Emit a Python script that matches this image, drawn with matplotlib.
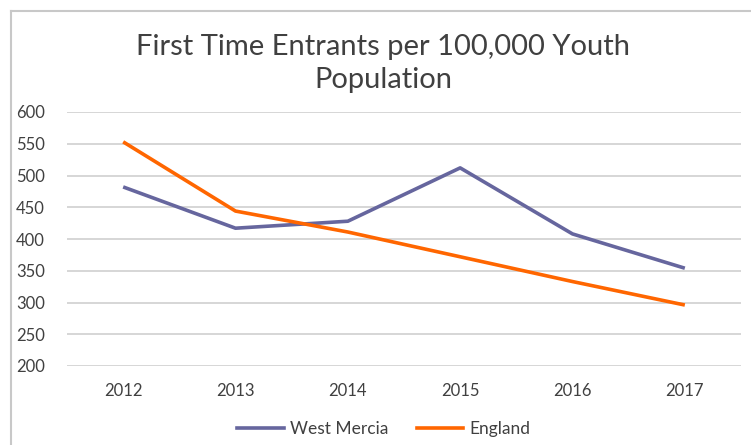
import matplotlib
matplotlib.use("Agg")
import matplotlib.pyplot as plt
from matplotlib.lines import Line2D

years = ["2012", "2013", "2014", "2015", "2016", "2017"]
west_mercia = [482, 417, 428, 512, 408, 354]
england = [553, 444, 411, 372, 333, 296]
yticks = [200, 250, 300, 350, 400, 450, 500, 550, 600]

plt.rcParams['font.family'] = ['Lato', 'DejaVu Sans']

W, H = 751, 445
fig = plt.figure(figsize=(W/100, H/100), dpi=100)
ax = fig.add_axes([67/W, 1-366/H, (741-67)/W, (366-112)/H])

x = list(range(len(years)))
ax.plot(x, west_mercia, color="#66669E", lw=2.6, solid_capstyle='butt', label="West Mercia", zorder=3)
ax.plot(x, england, color="#FF6600", lw=2.6, solid_capstyle='butt', label="England", zorder=3)

ax.set_xlim(-0.5, len(years)-0.5)
ax.set_ylim(200, 600)
ax.set_yticks(yticks)
ax.set_yticklabels([str(v) for v in yticks])
ax.set_xticks(x)
ax.set_xticklabels(years)
ax.grid(axis='y', color="#D0D0D0", lw=1.2)
ax.set_axisbelow(True)
for s in ax.spines.values():
    s.set_visible(False)
ax.tick_params(axis='both', length=0, labelsize=12, colors="#404040")
ax.tick_params(axis='y', pad=16)
ax.tick_params(axis='x', pad=12)

fig.text(383/W, 1-47/H, "First Time Entrants per 100,000 Youth", ha='center', va='center',
         fontsize=21, color="#404040")
fig.text(383/W, 1-80/H, "Population", ha='center', va='center', fontsize=21, color="#404040")

handles = [Line2D([0], [0], color="#66669E", lw=2.6), Line2D([0], [0], color="#FF6600", lw=2.6)]
fig.legend(handles, ["West Mercia", "England"], loc='center', bbox_to_anchor=(384/W, 1-429/H),
           ncol=2, frameon=False, fontsize=12.5, handlelength=2.7, columnspacing=1.6,
           handletextpad=0.35, labelcolor="#404040")

# figure border (left and top visible)
fig.add_artist(Line2D([10.5/W, 10.5/W], [0, 1-11/H], transform=fig.transFigure, color="#C8C8C8", lw=1.5))
fig.add_artist(Line2D([10.5/W, 1], [1-11/H, 1-11/H], transform=fig.transFigure, color="#C8C8C8", lw=1.5))

fig.savefig("out.png", dpi=100)
